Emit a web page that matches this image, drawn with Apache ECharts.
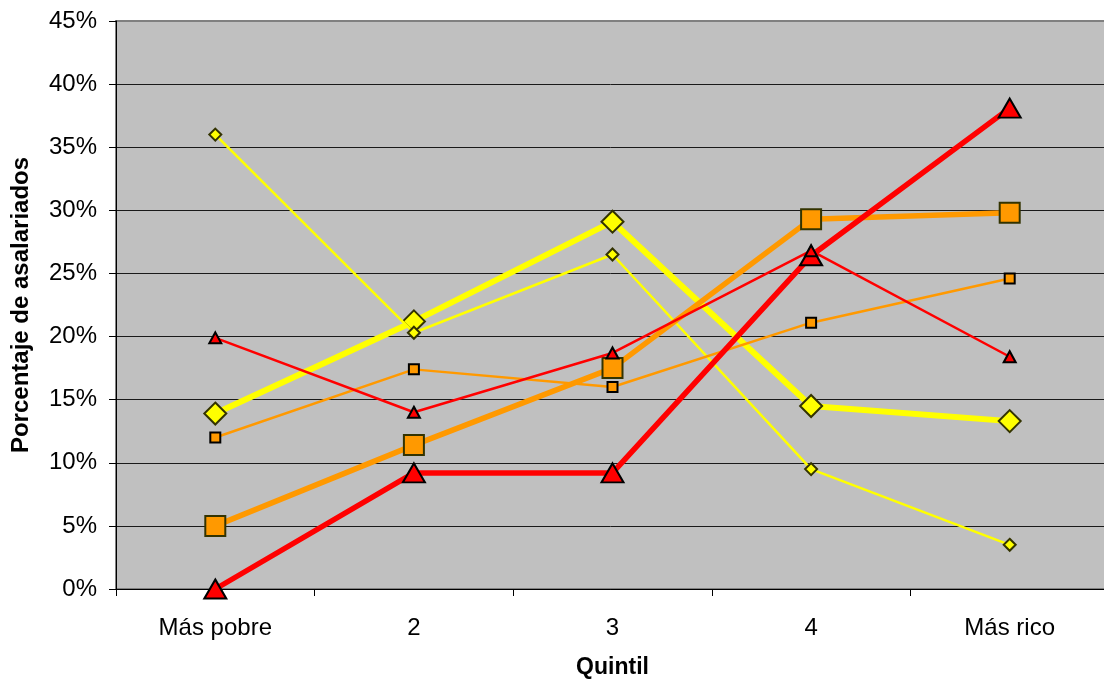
<!DOCTYPE html>
<html>
<head>
<meta charset="utf-8">
<script src="https://cdn.jsdelivr.net/npm/echarts@6/dist/echarts.min.js"></script>
<style>
  html, body { margin: 0; padding: 0; background: #ffffff; }
  #chart { width: 1104px; height: 679px; }
</style>
</head>
<body>
<div id="chart"></div>
<script>
// Quintiles of income
const categories = ['Más pobre', '2', '3', '4', 'Más rico'];

// Shares of wage earners (%) per quintile
const yellowThick = [13.9, 21.2, 29.1, 14.5, 13.3];
const yellowThin  = [36.0, 20.3, 26.5, 9.5, 3.5];
const orangeThick = [5.0, 11.4, 17.5, 29.3, 29.8];
const orangeThin  = [12.0, 17.4, 16.0, 21.1, 24.6];
const redThick    = [0.0, 9.2, 9.2, 26.4, 38.1];
const redThin     = [19.9, 14.0, 18.7, 26.8, 18.4];

// Value axis ticks
const yTicks = { min: 0, max: 45, interval: 5 };

const FONT = '"Liberation Sans", Arial, sans-serif';

function lineSeries(name, data, color, width, symbol, size, border, z) {
  return {
    name: name,
    type: 'line',
    data: data,
    z: z,
    symbol: symbol,
    symbolSize: size,
    showAllSymbol: true,
    lineStyle: { color: color, width: width },
    itemStyle: { color: color, borderColor: border, borderWidth: 2, opacity: 1 },
    emphasis: { disabled: true },
    animation: false
  };
}

const chart = echarts.init(document.getElementById('chart'), null, { renderer: 'canvas' });

chart.setOption({
  backgroundColor: '#ffffff',
  animation: false,
  grid: {
    left: 116, top: 21, right: -5, bottom: 90,
    show: true,
    backgroundColor: '#C0C0C0',
    borderColor: '#808080',
    borderWidth: 2,
    containLabel: false,
    outerBoundsMode: 'none'
  },
  xAxis: {
    type: 'category',
    data: categories,
    boundaryGap: true,
    name: 'Quintil',
    nameLocation: 'middle',
    nameGap: 67,
    nameTextStyle: { fontFamily: FONT, fontSize: 23, fontWeight: 'bold', color: '#000' },
    axisLine: { show: true, lineStyle: { color: '#000', width: 1 } },
    axisTick: { show: true, inside: false, length: 7, lineStyle: { color: '#000' } },
    axisLabel: { fontFamily: FONT, fontSize: 24, color: '#000', margin: 27, interval: 0 },
    splitLine: { show: false }
  },
  yAxis: {
    type: 'value',
    min: yTicks.min,
    max: yTicks.max,
    interval: yTicks.interval,
    name: 'Porcentaje de asalariados',
    nameLocation: 'middle',
    nameGap: 83,
    nameRotate: 90,
    nameTextStyle: { fontFamily: FONT, fontSize: 24, fontWeight: 'bold', color: '#000' },
    axisLine: { show: true, lineStyle: { color: '#000', width: 1 } },
    axisTick: { show: true, inside: false, length: 7, lineStyle: { color: '#000' } },
    axisLabel: { fontFamily: FONT, fontSize: 24, color: '#000', margin: 19, formatter: '{value}%' },
    splitLine: { show: true, showMaxLine: false, lineStyle: { color: '#1a1a1a', width: 1 } }
  },
  series: [
    lineSeries('Amarillo grueso', yellowThick, '#FFFF00', 6, 'diamond', 22, '#333300', 3),
    lineSeries('Amarillo fino', yellowThin, '#FFFF00', 2.5, 'diamond', 12, '#333300', 4),
    lineSeries('Naranja grueso', orangeThick, '#FF9900', 5.5, 'rect', 20, '#333300', 5),
    lineSeries('Naranja fino', orangeThin, '#FF9900', 2.5, 'rect', 10, '#000000', 6),
    lineSeries('Rojo grueso', redThick, '#FF0000', 5.5, 'triangle', [22, 19], '#000000', 7),
    lineSeries('Rojo fino', redThin, '#FF0000', 2.5, 'triangle', [12, 11], '#000000', 8)
  ]
});
</script>
</body>
</html>
